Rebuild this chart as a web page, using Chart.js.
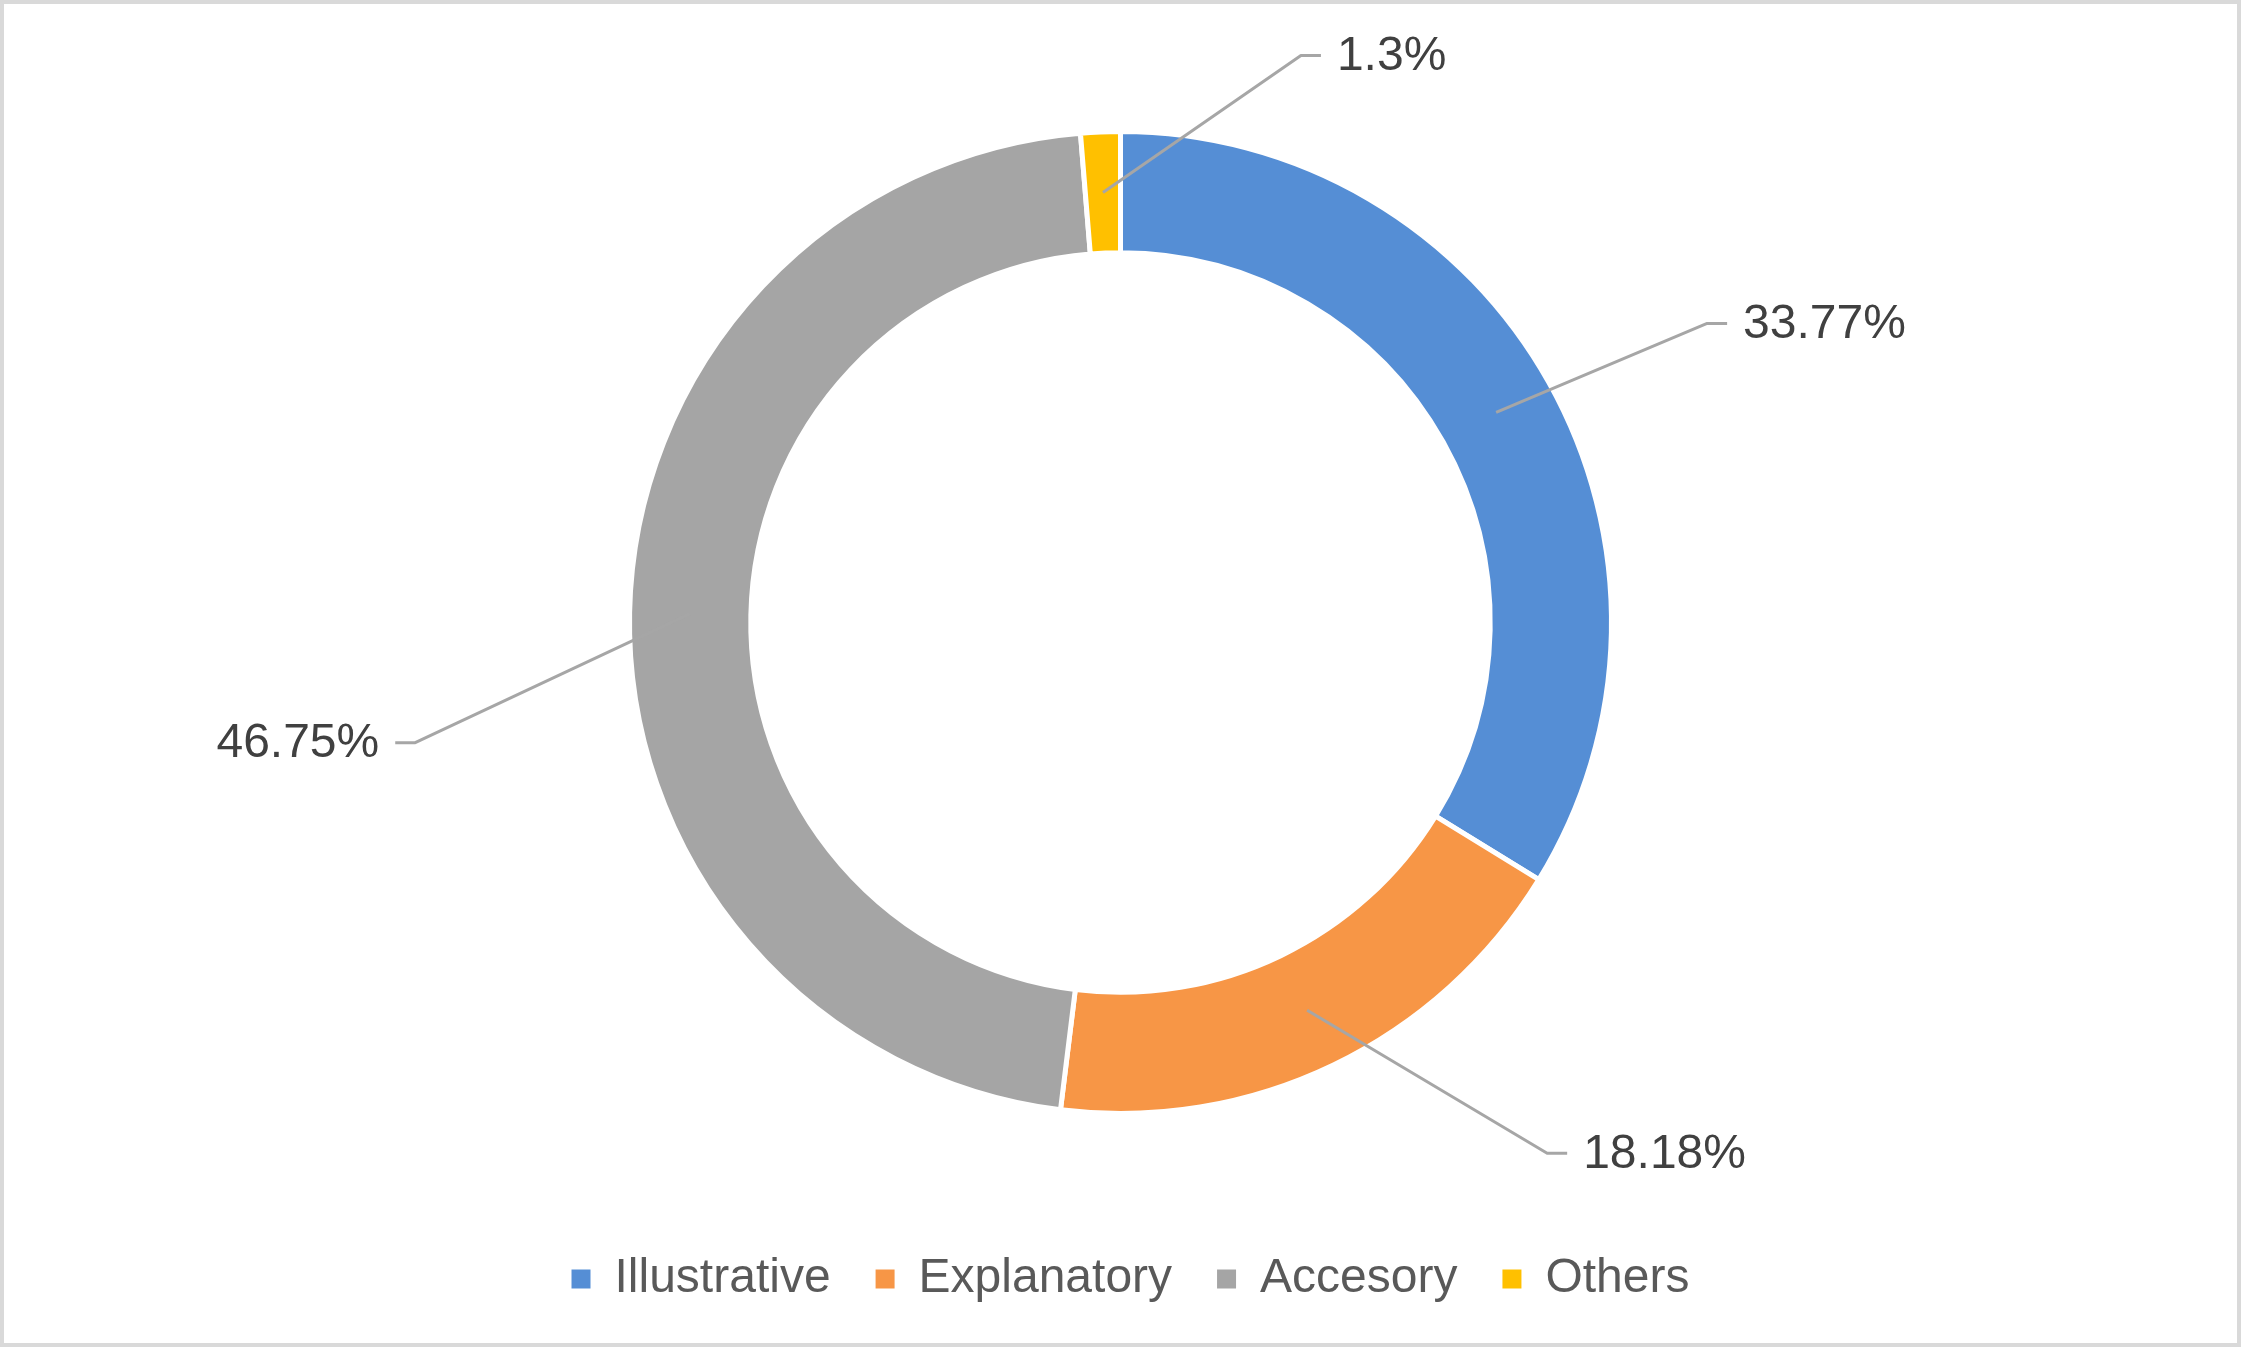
<!DOCTYPE html>
<html><head><meta charset="utf-8">
<script src="https://cdn.jsdelivr.net/npm/chart.js@4/dist/chart.umd.min.js"></script>
<style>
html,body{margin:0;padding:0;background:#fff;overflow:hidden}
#wrap{position:relative;width:2241px;height:1347px}
#c{position:absolute;left:0;top:0}
#frame{position:absolute;left:0;top:0;width:2241px;height:1347px;box-sizing:border-box;border:4px solid #D9D9D9;pointer-events:none}
</style></head><body>
<div id="wrap"><canvas id="c" width="2241" height="1347"></canvas><div id="frame"></div></div>
<script>
// ---- data ----
const categories = ['Illustrative', 'Explanatory', 'Accesory', 'Others'];
const shares = [33.77, 18.18, 46.75, 1.3];
const sliceColors = ['#558ED5', '#F79646', '#A5A5A5', '#FFC000'];

// ---- label placement (layout only): elbow offset from slice mid-ring point ----
const labelElbowOffsets = [
  {dx: 211, dy: -89},
  {dx: 240, dy: 143},
  {dx: -275, dy: 129},
  {dx: 198, dy: -137}
];

const FONT = '"Liberation Sans", Arial, sans-serif';

const leaderLabels = {
  id: 'leaderLabels',
  afterLayout(chart) {
    // nudge legend slightly right to match reference placement
    if (chart.legend) { chart.legend.left += 10; chart.legend.right += 10; }
  },
  afterDatasetsDraw(chart) {
    const ctx = chart.ctx;
    const meta = chart.getDatasetMeta(0);
    ctx.save();
    meta.data.forEach((el, i) => {
      const p = el.getProps(['x', 'y', 'startAngle', 'endAngle', 'innerRadius', 'outerRadius'], true);
      const a = (p.startAngle + p.endAngle) / 2;
      const r = (p.innerRadius + p.outerRadius) / 2;
      const px = p.x + Math.cos(a) * r;
      const py = p.y + Math.sin(a) * r;
      const off = labelElbowOffsets[i];
      const ex = px + off.dx, ey = py + off.dy;
      const dir = off.dx >= 0 ? 1 : -1;
      const hx = ex + dir * 20;
      ctx.beginPath();
      ctx.strokeStyle = '#A6A6A6';
      ctx.lineWidth = 3;
      ctx.lineJoin = 'round';
      ctx.moveTo(px, py);
      ctx.lineTo(ex, ey);
      ctx.lineTo(hx, ey);
      ctx.stroke();
      ctx.fillStyle = '#404040';
      ctx.font = '48px ' + FONT;
      ctx.textBaseline = 'middle';
      ctx.textAlign = dir > 0 ? 'left' : 'right';
      ctx.fillText(shares[i] + '%', hx + dir * 16, ey + 1);
    });
    ctx.restore();
  }
};

new Chart(document.getElementById('c'), {
  type: 'doughnut',
  data: {
    labels: categories,
    datasets: [{
      data: shares,
      backgroundColor: sliceColors,
      borderColor: '#FFFFFF',
      borderWidth: 5,
      hoverOffset: 0
    }]
  },
  options: {
    responsive: false,
    animation: false,
    radius: 491,
    cutout: '75.3%',
    layout: {padding: {top: 35, bottom: 34, left: 0, right: 0}},
    plugins: {
      tooltip: {enabled: false},
      legend: {
        position: 'bottom',
        align: 'center',
        labels: {
          boxWidth: 19,
          boxHeight: 19,
          padding: 45,
          color: '#595959',
          font: {size: 48, family: FONT},
          generateLabels(chart) {
            const items = Chart.overrides.doughnut.plugins.legend.labels.generateLabels(chart);
            items.forEach(it => { it.lineWidth = 0; it.strokeStyle = 'rgba(0,0,0,0)'; });
            return items;
          }
        }
      }
    }
  },
  plugins: [leaderLabels]
});
</script>
</body></html>
